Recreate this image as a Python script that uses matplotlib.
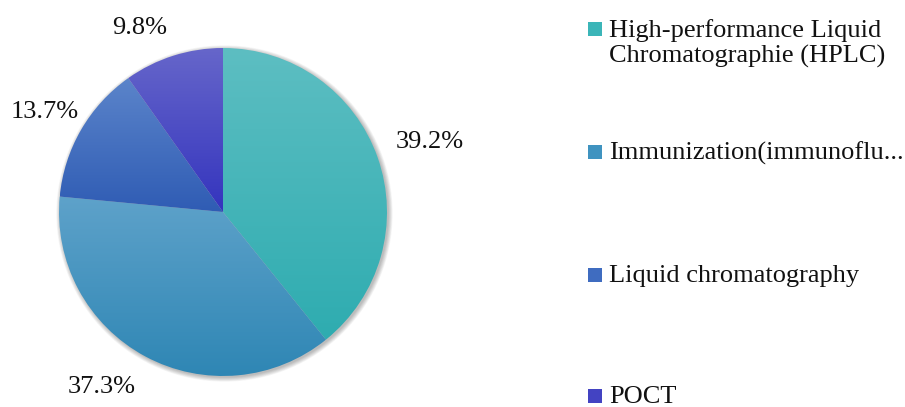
import numpy as np
import matplotlib as mpl
mpl.use('Agg')
import matplotlib.pyplot as plt
from matplotlib.colors import LinearSegmentedColormap
from matplotlib.patches import Circle, Rectangle

plt.rcParams['font.family'] = ['Liberation Serif', 'DejaVu Serif']

# data
categories = ["High-performance Liquid\nChromatographie (HPLC)",
              "Immunization(immunoflu...",
              "Liquid chromatography",
              "POCT"]
shares = [39.2, 37.3, 13.7, 9.8]

# gradient colours per slice (top, bottom) and legend swatch colour
top_colors = ["#5dbec2", "#5ea2ca", "#5b84ca", "#6666ca"]
bottom_colors = ["#2eacb0", "#2e86b4", "#2f5cb4", "#3434be"]
swatch_colors = ["#3bb5b8", "#3f93c0", "#3f6cc0", "#4343c2"]

# label placement (distance in radii, angle nudge in degrees), Excel "best fit"
label_dist = [1.33, 1.30, 1.245, 1.23]
label_nudge = [-0.7, -6.4, 0.8, 6.7]

W, H = 905, 407
CX, CY, R = 223, H - 212, 164

fig = plt.figure(figsize=(W / 100, H / 100), dpi=100)
ax = fig.add_axes([0, 0, 1, 1])

# soft shadow round the pie
for k in range(8):
    ax.add_patch(Circle((CX + 1.5, CY - 1.5), R + 0.6 * k, color="black",
                        alpha=0.035, lw=0, zorder=0))

wedges, texts, autotexts = ax.pie(
    shares, center=(CX, CY), radius=R, startangle=90, counterclock=False,
    autopct="%.1f%%", pctdistance=1.28, labels=None,
    wedgeprops=dict(linewidth=0, facecolor="none"),
    textprops=dict(fontsize=19, color="#111111"))

# move percentage labels to where Excel put them
for w, t, d, nud in zip(wedges, autotexts, label_dist, label_nudge):
    mid = np.deg2rad((w.theta1 + w.theta2) / 2 + nud)
    t.set_position((CX + d * R * np.cos(mid), CY + d * R * np.sin(mid)))
    t.set_ha("center")
    t.set_va("center")

grad = np.linspace(0, 1, 256).reshape(-1, 1)
for w, c_top, c_bot in zip(wedges, top_colors, bottom_colors):
    verts = w.get_patch_transform().transform(w.get_path().vertices)
    x0, y0 = verts.min(axis=0)
    x1, y1 = verts.max(axis=0)
    cmap = LinearSegmentedColormap.from_list("g", [c_bot, c_top])
    im = ax.imshow(grad, extent=[x0, x1, y0, y1], origin="lower", cmap=cmap,
                   aspect="auto", zorder=1, interpolation="bilinear")
    im.set_clip_path(w)

# legend drawn by hand (Excel style, spread down the right side)
legend_y = [H - 29, H - 152, H - 275, H - 396]
for lab, col, y in zip(categories, swatch_colors, legend_y):
    ax.add_patch(Rectangle((588, y - 7), 14, 14, color=col, lw=0, zorder=3))
    ax.text(609, y + 10, lab, fontsize=19, color="#111111", va="top",
            ha="left", linespacing=1.15)

ax.set_xlim(0, W)
ax.set_ylim(0, H)
ax.set_aspect("auto")
ax.axis("off")

fig.savefig("out.png", dpi=100)
